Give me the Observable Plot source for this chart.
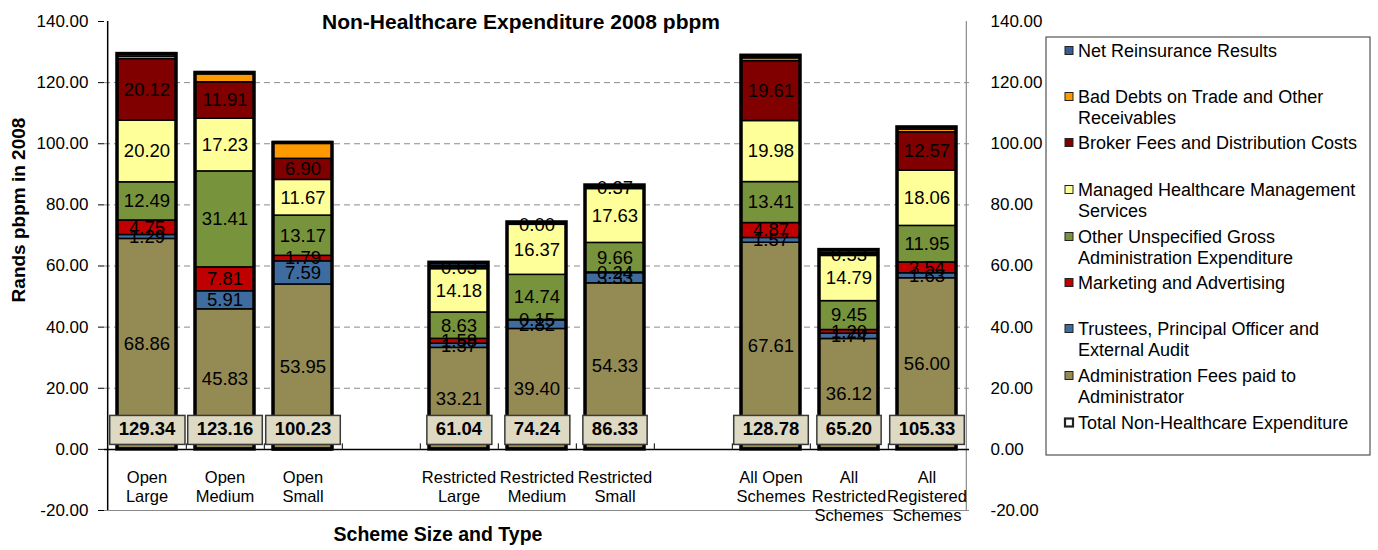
<!DOCTYPE html>
<html><head><meta charset="utf-8">
<script src="https://cdn.jsdelivr.net/npm/d3@7"></script>
<script src="https://cdn.jsdelivr.net/npm/@observablehq/plot@0.6"></script>
<style>body{margin:0;background:#fff}#chart{width:1378px;height:550px}</style>
</head><body><div id="chart"></div>
<script>
const FONT = "'Liberation Sans', Arial, sans-serif";

// Categories (with two empty gap slots in the x domain)
const schemes = ["Open Large","Open Medium","Open Small","Restricted Large","Restricted Medium","Restricted Small","All Open Schemes","All Restricted Schemes","All Registered Schemes"];
const schemeLabels = ["Open\nLarge","Open\nMedium","Open\nSmall","Restricted\nLarge","Restricted\nMedium","Restricted\nSmall","All Open\nSchemes","All\nRestricted\nSchemes","All\nRegistered\nSchemes"];
const xDomain = ["Open Large","Open Medium","Open Small","gap1","Restricted Large","Restricted Medium","Restricted Small","gap2","All Open Schemes","All Restricted Schemes","All Registered Schemes"];

// Series, bottom to top
const seriesNames = ["Administration Fees paid to Administrator","Trustees, Principal Officer and External Audit","Marketing and Advertising","Other Unspecified Gross Administration Expenditure","Managed Healthcare Management Services","Broker Fees and Distribution Costs","Bad Debts on Trade and Other Receivables","Net Reinsurance Results"];
const seriesColors = ["#948A54","#3F6C9F","#C00000","#77933C","#FFFF99","#800000","#FF9900","#365F91"];
const seriesLabelled = [true,true,true,true,true,true,false,false];

const adminFees   = [68.86,45.83,53.95,33.21,39.40,54.33,67.61,36.12,56.00];
const trustees    = [1.29,5.91,7.59,1.37,2.82,3.33,1.57,1.74,1.63];
const marketing   = [4.75,7.81,1.79,1.58,0.15,0.24,4.87,1.20,3.54];
const otherAdmin  = [12.49,31.41,13.17,8.63,14.74,9.66,13.41,9.45,11.95];
const managedCare = [20.20,17.23,11.67,14.18,16.37,17.63,19.98,14.79,18.06];
const brokerFees  = [20.12,11.91,6.90,0.63,0.00,0.37,19.61,0.53,12.57];
const badDebts    = [0.80,2.60,5.50,0.50,0.30,0.30,0.90,0.50,0.90];
const netReins    = [0.83,0.46,-0.34,0.94,0.46,0.47,0.83,0.87,0.68];
const totals      = [129.34,123.16,100.23,61.04,74.24,86.33,128.78,65.20,105.33];

const yTicks = [-20,0,20,40,60,80,100,120,140];
const gridTicks = [20,40,60,80,100,120];

const legendLines = [
  ["Net Reinsurance Results"],
  ["Bad Debts on Trade and Other","Receivables"],
  ["Broker Fees and Distribution Costs"],
  ["Managed Healthcare Management","Services"],
  ["Other Unspecified Gross","Administration Expenditure"],
  ["Marketing and Advertising"],
  ["Trustees, Principal Officer and","External Audit"],
  ["Administration Fees paid to","Administrator"],
  ["Total Non-Healthcare Expenditure"]
];
const legendColors = ["#365F91","#FF9900","#800000","#FFFF99","#77933C","#C00000","#3F6C9F","#948A54","#FFFFFF"];

// Build table
const seriesValues = [adminFees,trustees,marketing,otherAdmin,managedCare,brokerFees,badDebts,netReins];
const rows = [];
seriesNames.forEach((s,i) => schemes.forEach((c,j) => rows.push({
  scheme: c, series: s, value: seriesValues[i][j],
  label: seriesLabelled[i] ? seriesValues[i][j].toFixed(2) : null
})));
const totalRows = schemes.map((c,j) => ({scheme: c, total: totals[j], label: totals[j].toFixed(2), name: schemeLabels[j]}));

const W = 1378, H = 550, ML = 104, MR = 409, MT = 21, MB = 40;
const step = (W - ML - MR) / xDomain.length;

const plot = Plot.plot({
  width: W, height: H,
  marginLeft: ML, marginRight: MR, marginTop: MT, marginBottom: MB,
  style: {fontFamily: FONT, fontSize: "17px", color: "#000", background: "#fff", overflow: "visible"},
  x: {domain: xDomain, paddingInner: 0.24, paddingOuter: 0.12, axis: null},
  y: {domain: [-20, 140]},
  color: {domain: seriesNames, range: seriesColors},
  marks: [
    Plot.ruleY(gridTicks, {stroke: "#8a8a8a", strokeWidth: 1, strokeDasharray: "6,4"}),
    Plot.ruleY([-20], {stroke: "#8a8a8a", strokeWidth: 1.2}),
    Plot.ruleX([xDomain[xDomain.length-1]], {dx: step/2, y1: -20, y2: 140, stroke: "#8a8a8a", strokeWidth: 1.2}),
    Plot.barY(rows, Plot.stackY({x: "scheme", y: "value", fill: "series", stroke: "#000", strokeWidth: 1.5})),
    Plot.text(rows, Plot.stackY({x: "scheme", y: "value", text: "label", fontSize: 18.5, fill: "#000"})),
    Plot.barY(totalRows, {x: "scheme", y: "total", fill: "none", stroke: "#000", strokeWidth: 3.5}),
    Plot.ruleY([0], {stroke: "#000", strokeWidth: 1.5}),
    Plot.ruleX(xDomain.slice(0, -1), {dx: step/2, y1: 0, y2: 1.8, stroke: "#000", strokeWidth: 1}),
    Plot.ruleX([xDomain[0]], {dx: -step/2, y1: -20, y2: 140, stroke: "#000", strokeWidth: 1.5}),
    Plot.axisY({anchor: "left", ticks: yTicks, tickFormat: d => d.toFixed(2), tickSize: 6, tickPadding: 10, fontSize: 17, label: null}),
    Plot.axisY({anchor: "right", ticks: yTicks, tickFormat: d => d.toFixed(2), tickSize: 0, tickPadding: 21, fontSize: 17, label: null}),
    Plot.text(totalRows, {x: "scheme", y: 6.5, text: "label", fontWeight: "bold", fontSize: 18.5, fill: "#000", ariaDescription: "totals"}),
    Plot.text(totalRows, {x: "scheme", y: -6.5, text: "name", lineAnchor: "top", lineHeight: 1.15, fontSize: 16.5, fill: "#000"}),
    Plot.text(["Non-Healthcare Expenditure 2008 pbpm"], {frameAnchor: "top", dx: -16, dy: 1, lineAnchor: "middle", fontWeight: "bold", fontSize: 21, fill: "#000"}),
    Plot.text(["Rands pbpm in 2008"], {frameAnchor: "left", textAnchor: "middle", rotate: -90, dx: -86, dy: -56, fontWeight: "bold", fontSize: 19, fill: "#000"}),
    Plot.text(["Scheme Size and Type"], {frameAnchor: "bottom", dx: -99, dy: 30, fontWeight: "bold", fontSize: 19.5, fill: "#000"})
  ]
});
document.getElementById("chart").appendChild(plot);

// Boxes behind the total labels
const svg = d3.select(plot);
const totalTexts = new Set(totalRows.map(d => d.label));
let grp = svg.select('g[aria-description="totals"]');
let nodes = grp.empty() ? [] : grp.selectAll("text").nodes();
if (!nodes.length) {
  nodes = svg.selectAll("text").nodes().filter(n => totalTexts.has(n.textContent) && n.getAttribute("font-weight") === "bold");
}
nodes.forEach(node => {
  const b = node.getBBox();
  const t = node.getAttribute("transform");
  const r = d3.select(node.parentNode).insert("rect", () => node)
    .attr("x", b.x - 9).attr("y", b.y - 3)
    .attr("width", b.width + 18).attr("height", b.height + 8)
    .attr("fill", "#DDD9C3").attr("stroke", "#3a3a3a").attr("stroke-width", 1.5);
  if (t) r.attr("transform", t);
});

// Legend
const lg = svg.append("g").attr("font-family", FONT).attr("font-size", 18).attr("text-anchor", "start");
lg.append("rect").attr("x", 1046).attr("y", 37).attr("width", 324).attr("height", 418)
  .attr("fill", "#fff").attr("stroke", "#333").attr("stroke-width", 1);
const itemY = [51,97,143,190,237,283,329,376,423];
legendLines.forEach((lines, i) => {
  const g = lg.append("g");
  g.append("rect").attr("x", 1065).attr("y", itemY[i]-4.5).attr("width", 8).attr("height", 8)
    .attr("fill", legendColors[i]).attr("stroke", "#222").attr("stroke-width", i === legendLines.length-1 ? 2.2 : 1);
  lines.forEach((ln, k) => {
    g.append("text").attr("x", 1078).attr("y", itemY[i] + k*20.5).attr("dy", "0.35em").attr("fill", "#000").text(ln);
  });
});
</script>
</body></html>
